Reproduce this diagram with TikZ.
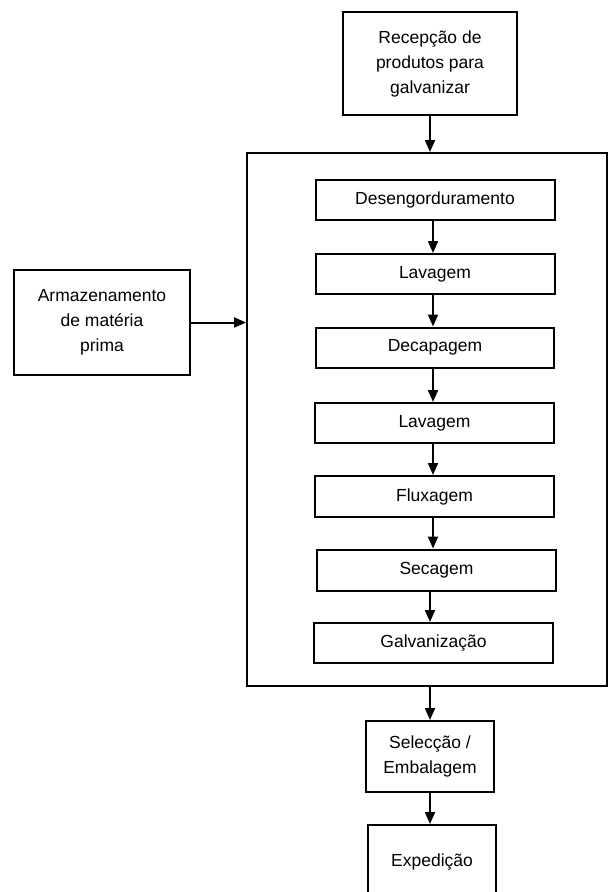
\documentclass[tikz,border=0pt]{standalone}
\usepackage{fontspec}
\setmainfont{Liberation Sans}
\usetikzlibrary{arrows.meta}
\begin{document}
\begin{tikzpicture}[x=1pt,y=-1pt,
  box/.style={draw=black,line width=2pt,align=center,inner sep=0pt,
    font=\fontsize{17.5}{25}\selectfont},
  arr/.style={line width=2pt,-{Triangle[length=12pt,width=10pt]}}]
\useasboundingbox (0,0) rectangle (608,892);
\node[box,minimum width=174,minimum height=103] (rec) at (430,63.5) {Recepção de\\produtos para\\galvanizar};
\node[draw=black,line width=2pt,inner sep=0pt,minimum width=360,minimum height=533] (frame) at (427,419.5) {};
\node[box,minimum width=239,minimum height=40] (des) at (435,200) {Desengorduramento};
\node[box,minimum width=239,minimum height=40] (lav1) at (435,274) {Lavagem};
\node[box,minimum width=238,minimum height=40] (dec) at (435,347.5) {Decapagem};
\node[box,minimum width=239,minimum height=40] (lav2) at (434.5,423) {Lavagem};
\node[box,minimum width=239,minimum height=41] (flu) at (434.5,496.5) {Fluxagem};
\node[box,minimum width=239,minimum height=41] (sec) at (436.5,570) {Secagem};
\node[box,minimum width=239,minimum height=40] (gal) at (433.5,643) {Galvanização};
\node[box,minimum width=176,minimum height=105] (arm) at (102,322.5) {Armazenamento\\de matéria\\prima};
\node[box,minimum width=128,minimum height=71] (sel) at (430,756.5) {Selecção /\\Embalagem};
\node[box,minimum width=128,minimum height=75] (exp) at (432,862.5) {Expedição};
\coordinate (ax) at (433,0);
\coordinate (bx) at (430,0);
\draw[arr] (rec.south) -- (rec.south |- frame.north);
\draw[arr] (arm.east) -- (arm.east -| frame.west);
\draw[arr] (des.south -| ax) -- (lav1.north -| ax);
\draw[arr] (lav1.south -| ax) -- (dec.north -| ax);
\draw[arr] (dec.south -| ax) -- (lav2.north -| ax);
\draw[arr] (lav2.south -| ax) -- (flu.north -| ax);
\draw[arr] (flu.south -| ax) -- (sec.north -| ax);
\draw[arr] (sec.south -| bx) -- (gal.north -| bx);
\draw[arr] (frame.south -| sel.north) -- (sel.north);
\draw[arr] (sel.south -| bx) -- (exp.north -| bx);
\end{tikzpicture}
\end{document}
